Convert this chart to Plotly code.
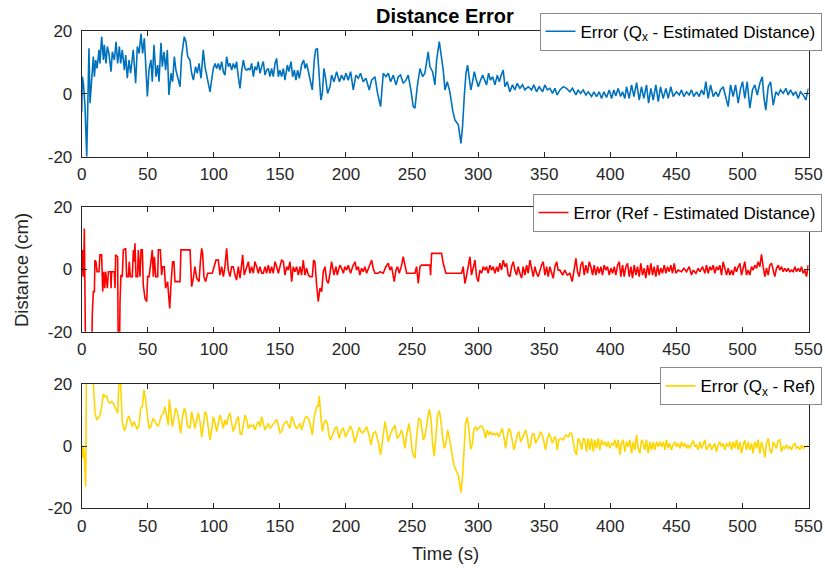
import plotly.graph_objects as go

# ---- Error (Qx - Estimated Distance), (time s, error cm) ----
qx_est_err = [
    (0, -6.0), (0.5, 5.4), (1.3, 3.3), (2.5, -4.0), (3.8, -20.0), (4.5, 0.0), (5.5, 14.4),
    (6.3, -3.0), (7.5, 5.4), (8.8, 11.8), (9.6, 5.4), (10.6, 10.7), (11.6, 8.0), (13.1, 13.9),
    (13.8, 9.6), (15.1, 18.1), (16.4, 10.7), (17.1, 15.5), (18.4, 9.6), (19.4, 15.0),
    (20.6, 12.8), (22.2, 7.0), (23.2, 13.3), (24.7, 10.7), (26.0, 16.5), (27.2, 9.6),
    (28.5, 15.0), (29.5, 9.6), (30.7, 13.9), (32.3, 7.5), (33.3, 12.3), (34.5, 4.9),
    (35.8, 10.7), (37.0, 6.5), (39.0, 13.9), (40.8, 3.3), (42.1, 15.0), (43.4, 12.8),
    (44.9, 19.0), (46.1, 12.8), (47.4, 17.6), (48.4, 8.6), (49.7, -0.9), (50.9, 7.5),
    (52.4, 10.7), (53.4, 3.8), (54.7, 15.5), (56.2, 5.4), (57.5, 9.1), (58.5, 3.8),
    (60.0, 16.2), (61.0, 8.6), (62.3, 13.3), (63.5, 7.5), (64.8, 13.9), (66.0, -0.4),
    (67.6, 6.5), (68.8, 3.8), (70.1, 11.8), (71.3, 7.5), (72.6, 5.4), (74.4, 2.2),
    (75.6, 11.8), (77.6, 18.1), (78.9, 16.5), (80.2, 11.8), (81.9, 10.7), (83.2, 6.5),
    (84.5, 4.3), (86.2, 8.6), (87.5, 6.5), (88.8, 9.6), (90.3, 4.9), (92.0, 13.9),
    (93.3, 8.6), (94.6, 5.9), (95.8, 2.2), (97.1, 0.6), (98.3, 4.3), (99.6, 8.0),
    (100.9, 9.6), (102.1, 8.0), (103.4, 9.6), (104.6, 7.5), (105.9, 10.2), (107.2, 7.0),
    (108.4, 5.9), (109.7, 11.8), (111.0, 8.6), (112.2, 9.6), (113.5, 7.5), (114.7, 9.6),
    (116.0, 8.0), (117.2, 10.2), (118.5, 5.4), (119.8, 1.7), (121.0, 7.0), (122.3, 10.7),
    (123.6, 8.0), (124.8, 7.5), (126.1, 8.0), (127.3, 7.5), (128.6, 9.6), (129.9, 5.4),
    (131.1, 8.6), (132.4, 7.5), (133.6, 10.2), (134.9, 6.5), (136.2, 8.6), (137.4, 10.2),
    (138.7, 5.9), (139.9, 7.5), (141.2, 8.0), (142.5, 5.4), (143.7, 8.0), (145.0, 5.4),
    (146.3, 9.6), (147.5, 11.2), (148.8, 5.4), (150.0, 7.5), (151.3, 5.4), (152.6, 8.0),
    (153.8, 4.3), (155.6, 9.1), (156.8, 7.0), (158.4, 10.2), (159.6, 5.4), (160.9, 7.5),
    (162.1, 4.3), (163.4, 7.5), (164.7, 4.9), (166.4, 9.1), (168.0, 10.7), (169.0, 8.0),
    (170.2, 9.6), (171.5, 7.0), (172.7, 5.4), (174.5, 1.2), (176.0, 10.7), (177.0, 13.9),
    (178.3, 14.4), (179.5, 5.4), (181.0, -2.0), (182.1, 0.1), (183.3, 8.0), (184.6, 4.9),
    (186.1, 0.1), (187.9, 2.2), (189.1, 5.9), (190.9, 3.8), (192.9, 7.0), (195.0, 3.8),
    (196.7, 5.9), (198.4, 4.3), (200.0, 6.5), (201.7, 4.3), (203.5, 7.0), (205.5, 1.2),
    (207.5, 5.9), (209.3, 4.9), (211.0, 6.5), (213.0, 3.8), (215.1, 4.9), (217.6, 1.2),
    (219.4, 4.3), (221.9, 5.4), (223.9, 0.1), (226.2, -4.1), (228.2, 6.5), (230.2, 5.4),
    (232.0, 6.5), (233.8, 3.8), (235.8, 5.9), (237.8, 2.8), (239.6, 5.4), (241.3, 5.9),
    (243.3, 3.3), (245.4, 4.3), (247.1, 5.9), (249.1, 1.2), (250.9, -4.1), (252.2, -4.6),
    (253.9, 2.2), (256.0, 8.0), (258.0, 5.4), (259.7, 6.5), (261.0, 10.2), (262.2, 13.3),
    (263.5, 8.6), (265.5, 7.0), (267.3, 2.8), (268.6, 10.7), (270.6, 16.5), (272.3, 11.8),
    (273.6, 7.5), (274.9, 1.2), (276.6, 3.8), (278.6, 0.6), (280.7, -5.2), (282.4, -8.3),
    (285.0, -9.9), (287.0, -15.8), (288.2, -10.5), (289.5, -0.9), (290.8, 6.5), (292.0, 9.1),
    (293.3, 5.4), (294.5, 1.2), (295.8, 3.8), (297.1, 7.0), (298.3, 4.9), (300.1, 2.2),
    (301.8, 4.3), (303.4, 5.9), (304.9, 4.3), (306.4, 2.8), (307.9, 6.5), (309.4, 4.3),
    (311.0, 5.4), (312.7, 2.8), (314.5, 5.9), (316.0, 3.8), (317.5, 5.9), (319.0, 7.5),
    (320.3, 2.2), (322.0, 3.8), (324.0, 0.6), (326.0, 2.8), (327.8, 1.2), (329.6, 3.3),
    (331.6, 1.7), (333.6, 2.8), (335.4, 1.2), (337.9, 2.2), (340.4, 1.2), (342.2, 2.8),
    (344.2, 0.6), (346.2, 2.2), (348.8, 0.6), (350.5, 2.8), (352.3, 1.2), (354.3, 1.7),
    (356.3, 0.1), (358.1, 1.7), (359.8, -0.4), (361.9, 1.2), (364.4, 2.2), (366.9, 1.7),
    (369.4, 0.6), (371.4, 1.7), (374.0, -0.4), (375.7, 1.2), (377.5, 0.1), (379.5, 1.2),
    (381.5, -0.4), (383.3, 0.6), (385.8, -0.9), (387.6, 0.6), (389.6, -0.9), (391.6, 0.6),
    (393.4, -1.5), (395.2, 0.6), (397.2, -1.2), (399.2, 1.2), (401.0, -1.5), (402.7, 1.2),
    (404.2, -0.7), (406.0, 1.7), (407.8, -0.9), (409.3, 0.6), (411.0, -1.5), (412.3, 2.2),
    (414.3, -1.5), (416.1, 2.8), (417.9, -0.9), (419.9, 3.5), (421.9, -2.0), (423.6, 2.2),
    (425.4, -1.5), (427.4, 2.8), (429.0, -3.0), (430.7, 1.7), (432.5, -2.0), (434.5, 2.8),
    (436.3, -2.5), (438.0, 2.2), (440.0, -1.5), (442.1, 1.7), (443.8, -1.5), (445.8, 2.2),
    (447.6, -0.9), (450.1, 0.6), (452.2, -0.4), (453.9, 1.2), (455.7, -0.9), (457.7, 0.6),
    (459.7, -0.4), (461.5, 1.2), (463.2, -0.9), (465.3, 0.6), (467.3, -0.9), (469.0, 1.2),
    (470.8, -0.4), (472.3, 3.8), (474.1, -1.5), (475.9, 2.8), (477.9, -0.9), (479.9, 0.6),
    (481.7, -0.9), (483.4, 1.2), (485.4, 2.2), (487.2, -0.9), (489.2, -4.1), (491.0, 2.8),
    (493.0, -0.9), (494.8, 2.8), (496.8, -3.0), (498.6, 1.7), (500.1, 3.8), (501.8, -1.5),
    (503.6, 3.8), (505.6, -4.6), (507.6, 1.2), (509.4, 2.8), (511.2, -0.4), (513.2, 3.3),
    (515.0, 5.4), (516.2, -0.9), (517.7, -5.2), (519.5, 2.2), (521.3, 3.8), (523.3, -3.6),
    (525.3, 0.6), (527.1, -0.4), (528.8, 1.2), (530.8, 0.1), (532.9, 1.7), (534.6, -0.4),
    (536.4, 1.2), (538.4, -0.4), (540.4, 0.6), (542.2, -1.5), (543.9, 0.6), (546.0, -0.4),
    (548.0, -2.0), (549.0, 0.1), (550.0, 1.7),
]

# ---- Error (Ref - Estimated Distance) ----
ref_est_err = [
    (0, -2.3), (0.5, 6.3), (1.5, -2.3), (2.0, 13.2), (3.0, -30.0), (7.5, -30.0), (8.0, -14.6),
    (8.8, -7.1), (9.6, -7.1), (10.0, 3.0), (10.8, 2.5), (11.6, -0.7), (13.1, -0.7),
    (13.8, 4.7), (15.1, 4.7), (15.9, -7.1), (16.6, -0.7), (17.4, -6.0), (18.1, -0.7),
    (19.4, -6.0), (20.2, -0.7), (21.9, -0.7), (22.2, -6.0), (22.7, -0.7), (24.7, -0.7),
    (25.2, -6.0), (25.7, 4.7), (27.2, 4.1), (27.7, -30.0), (28.5, -30.0), (29.0, -10.3),
    (29.7, -1.8), (30.7, -2.3), (31.5, 6.3), (33.3, 6.8), (34.0, -2.3), (35.3, -2.3),
    (36.0, 2.5), (36.8, -2.3), (38.3, -2.3), (39.1, 6.3), (39.8, 2.5), (40.3, 8.4),
    (41.1, -2.3), (42.3, -2.3), (42.8, 6.3), (44.1, -2.3), (44.9, 6.3), (45.9, 6.3),
    (46.6, -5.0), (47.9, -9.3), (49.2, -10.3), (49.9, -2.3), (51.0, -2.3), (52.4, 2.5),
    (53.4, 6.3), (54.2, -2.3), (55.0, 4.1), (56.0, -2.3), (57.5, -2.3), (58.0, 6.3),
    (59.5, 6.3), (60.5, -1.8), (61.3, 0.9), (62.5, 0.9), (63.5, -6.0), (65.0, -3.9),
    (66.6, -12.5), (67.6, -4.5), (68.8, 2.5), (69.8, 2.5), (70.6, -3.9), (74.4, -3.9),
    (75.1, 6.3), (82.0, 6.3), (83.2, -5.5), (84.5, -2.8), (85.7, 0.9), (87.0, -2.8),
    (88.8, -3.9), (89.8, 2.5), (90.8, 6.8), (91.5, 5.2), (92.5, -2.3), (93.8, -3.9),
    (95.3, -1.2), (98.8, -1.2), (100.3, 0.9), (101.6, 3.0), (103.4, 3.0), (104.6, -1.8),
    (105.9, 0.9), (107.2, -2.3), (108.4, 0.9), (109.7, 6.8), (110.9, -0.2), (112.2, -2.3),
    (113.5, 0.9), (114.7, 0.9), (116.0, -1.8), (117.2, -3.4), (118.5, 0.9), (119.8, -2.8),
    (121.0, 1.4), (121.8, 4.7), (123.0, -1.8), (124.8, 0.9), (126.1, 2.5), (127.3, -1.2),
    (128.6, 0.9), (129.9, -1.2), (131.1, 2.5), (132.4, 0.9), (133.6, -1.2), (134.9, 0.9),
    (136.2, -1.2), (137.4, -1.2), (138.7, 0.9), (139.9, -1.2), (141.2, 1.4), (142.5, -1.2),
    (143.7, 0.9), (145.0, -1.2), (146.3, 2.5), (147.5, 0.9), (148.8, -1.2), (150.0, 0.9),
    (151.3, 3.0), (152.6, 2.5), (153.8, -1.8), (155.1, 0.9), (156.3, -0.2), (157.6, 2.5),
    (158.9, -3.9), (160.1, 0.9), (161.4, -0.7), (162.6, 0.9), (163.9, -1.8), (165.2, 0.9),
    (166.4, -1.8), (167.7, 3.0), (168.9, -1.8), (170.2, 0.4), (171.5, -1.8), (172.7, -2.3),
    (174.5, -2.3), (175.5, 3.0), (176.5, 2.5), (177.8, -5.0), (179.0, -10.3), (180.3, -6.0),
    (181.6, -7.1), (182.8, -0.7), (184.1, 0.9), (185.3, -3.4), (186.6, -4.5),
    (187.9, -1.2), (189.1, 2.5), (190.9, -1.8), (192.4, 0.9), (193.4, -1.8), (195.4, 1.4),
    (196.7, 0.4), (198.0, -1.2), (199.2, 0.9), (200.5, -0.2), (201.7, 1.4), (203.5, -1.2),
    (205.0, 0.9), (206.8, 2.5), (208.0, -0.2), (209.3, 0.9), (210.5, -1.8), (211.8, 0.4),
    (213.1, -0.7), (214.3, 0.9), (215.6, -1.2), (217.6, 0.9), (219.4, 3.0), (220.6, 0.4),
    (221.9, -1.2), (224.4, -1.2), (225.7, -0.7), (228.2, -1.2), (230.2, 0.9), (232.0, 2.0),
    (233.2, -0.2), (234.5, 0.9), (235.8, -1.8), (236.5, -3.9), (237.8, -0.2), (239.0, 0.9),
    (240.3, -1.2), (242.1, 1.4), (243.3, 4.1), (244.6, 1.4), (245.9, -1.2), (252.2, -1.2),
    (253.4, 0.9), (254.7, -4.5), (256.0, 0.9), (257.2, 1.4), (263.5, 1.4), (264.0, -1.8),
    (264.8, 5.2), (272.3, 5.2), (273.6, 2.0), (275.6, -1.2), (287.5, -1.2), (288.7, 0.9),
    (290.0, -4.5), (291.3, -1.8), (292.5, 1.4), (293.8, 4.1), (295.0, -1.8), (296.3, 0.9),
    (297.6, 3.0), (298.8, -2.3), (300.1, -3.9), (301.3, -0.2), (302.6, -1.2), (303.9, 0.9),
    (305.1, -0.2), (306.4, 0.9), (307.6, -1.2), (308.9, 1.4), (310.2, -0.2), (311.4, 0.9),
    (312.7, -1.2), (314.0, 0.9), (315.2, -0.7), (316.5, 2.0), (317.7, -0.2), (319.0, 3.0),
    (320.3, 0.9), (321.5, 2.0), (322.8, -1.8), (324.1, -2.3), (325.3, 0.9), (326.6, 2.5),
    (327.8, -0.2), (329.1, -1.8), (330.3, 0.9), (331.6, -1.2), (332.9, -2.8), (334.1, 0.9),
    (335.4, -1.8), (336.7, 1.4), (337.9, -1.2), (339.2, 3.0), (340.4, -0.2), (341.7, -2.3),
    (343.0, 0.9), (344.2, -1.2), (345.5, -2.3), (346.7, -0.2), (348.0, 1.4), (349.3, 2.5),
    (350.5, -1.8), (351.8, 0.9), (353.0, -2.3), (354.3, 0.9), (355.6, -1.2), (356.8, -2.8),
    (358.1, 0.9), (359.4, 2.5), (360.6, -0.2), (361.9, -0.2), (363.9, -1.8), (365.6, -0.2),
    (367.4, -1.8), (369.4, -1.2), (371.2, -3.9), (372.7, 0.4), (374.0, 3.6), (375.2, -0.7),
    (376.5, -2.3), (377.7, 1.4), (379.0, 2.5), (380.3, -1.8), (381.5, 1.4), (382.8, -1.2),
    (384.1, 2.5), (385.3, 0.9), (386.6, -1.8), (387.8, 1.4), (389.1, -1.8), (390.4, 0.9),
    (391.6, -1.2), (392.9, 0.9), (394.1, -1.8), (395.4, 1.4), (396.7, -0.2), (397.9, 0.9),
    (399.2, -1.8), (400.5, 0.4), (401.7, -1.2), (403.0, 0.9), (404.2, -1.8), (405.5, 1.4),
    (406.8, 2.5), (408.0, -2.3), (409.3, 1.4), (410.5, -2.3), (411.8, 0.9), (413.1, 2.0),
    (414.3, -2.3), (415.6, 0.9), (416.8, -2.8), (418.1, 1.4), (419.4, -1.8), (420.6, 0.9),
    (421.9, -2.3), (423.1, 2.0), (424.4, -1.8), (425.7, 0.4), (426.9, -2.8), (428.2, 1.4),
    (429.5, -1.8), (430.7, 2.0), (432.0, -1.8), (433.2, 0.9), (434.5, -2.3), (435.8, 1.4),
    (437.0, -1.8), (438.3, 0.4), (439.5, -1.2), (440.8, 1.4), (442.1, -1.2), (443.3, 0.9),
    (444.6, -0.7), (445.8, 1.4), (447.1, -1.2), (448.4, 2.0), (449.6, -1.2), (451.4, -0.2),
    (453.9, -0.7), (455.7, 0.4), (457.7, -0.7), (459.7, 0.9), (461.5, -1.8), (462.7, -0.2),
    (464.8, -1.2), (466.5, 0.4), (467.8, -0.7), (469.8, 0.9), (471.6, -1.2), (472.8, 1.4),
    (474.1, -1.2), (475.4, 0.9), (476.6, -0.2), (477.9, 1.4), (479.1, -1.2), (480.4, 0.9),
    (481.7, -0.2), (482.9, 1.4), (484.2, -1.8), (485.4, 2.5), (486.7, -0.2), (488.0, -1.8),
    (489.2, 0.4), (490.5, -1.8), (491.8, -0.2), (493.0, -1.8), (494.3, 0.9), (495.5, -0.7),
    (496.8, 0.9), (498.1, 2.0), (499.3, -1.8), (500.6, 0.4), (501.8, 2.5), (503.1, -1.8),
    (504.4, -0.2), (505.6, -1.8), (506.9, 0.9), (508.1, -0.2), (509.4, 1.4), (510.7, 0.4),
    (511.9, 2.5), (513.2, 0.9), (514.4, 4.9), (515.7, 0.9), (517.0, -2.3), (518.2, 0.4),
    (519.5, -1.8), (520.7, 1.4), (522.0, 2.0), (523.3, -0.2), (524.5, -2.3), (525.8, 0.4),
    (527.1, 1.4), (528.3, -0.2), (529.6, 0.9), (530.8, -0.7), (532.1, 0.4), (533.4, -0.7),
    (534.6, 0.4), (535.9, -0.7), (537.1, -0.2), (538.4, -0.7), (539.7, 0.9), (540.9, -0.7),
    (542.2, 0.4), (543.5, -0.7), (544.7, 0.9), (546.0, -1.2), (547.2, -0.2), (548.5, -2.3),
    (549.8, 1.4),
]

# ---- Error (Qx - Ref) ----
qx_ref_err = [
    (0, 0.4), (0.5, -3.9), (1.2, -0.2), (2.0, -3.4), (3.0, -13.0), (3.5, 20.2), (4.2, 26.0),
    (7.0, 26.0), (8.8, 20.2), (10.1, 10.6), (11.3, 8.6), (12.6, 9.0), (13.8, 10.0),
    (15.1, 12.7), (16.4, 16.8), (17.6, 15.9), (18.9, 16.1), (20.2, 14.3), (21.4, 13.8),
    (22.7, 14.3), (23.9, 13.8), (25.2, 12.7), (26.5, 11.6), (27.2, 10.6), (28.2, 20.2),
    (28.7, 25.0), (29.5, 20.2), (30.7, 7.9), (32.3, 4.9), (33.5, 6.3), (34.8, 9.0),
    (35.8, 9.7), (37.0, 7.9), (38.3, 6.3), (39.6, 7.9), (40.8, 6.8), (42.1, 5.4), (43.4, 6.8),
    (44.6, 12.2), (45.9, 12.7), (47.1, 18.1), (48.4, 14.9), (49.7, 9.0), (50.9, 5.7),
    (52.4, 6.3), (53.9, 9.0), (55.5, 7.9), (56.7, 6.8), (58.0, 6.5), (59.2, 8.4),
    (60.5, 10.0), (61.8, 10.6), (63.0, 12.7), (64.3, 9.5), (65.5, 6.8), (66.3, 15.1),
    (67.3, 10.6), (68.6, 6.3), (69.8, 9.0), (71.1, 12.2), (72.4, 11.1), (73.6, 6.8),
    (74.9, 4.1), (76.1, 9.0), (77.7, 12.2), (78.9, 10.6), (80.2, 6.3), (81.9, 5.7),
    (83.2, 11.1), (84.5, 8.4), (85.7, 5.7), (87.0, 8.4), (88.2, 10.8), (89.5, 7.9),
    (90.8, 3.0), (92.0, 6.3), (93.3, 11.1), (94.5, 10.0), (95.8, 5.7), (97.1, 2.0),
    (98.3, 5.2), (99.6, 9.5), (100.9, 7.3), (102.1, 4.7), (103.4, 7.3), (104.6, 10.0),
    (105.9, 8.4), (107.2, 5.7), (108.4, 8.4), (109.7, 6.8), (111.0, 9.5), (112.2, 10.6),
    (113.5, 7.3), (114.7, 4.7), (116.0, 6.3), (117.2, 8.4), (118.5, 9.5), (119.8, 4.1),
    (121.0, 3.6), (122.3, 7.3), (123.6, 10.0), (124.8, 8.4), (126.1, 5.7), (127.3, 6.8),
    (128.6, 6.3), (129.9, 6.8), (131.1, 5.2), (132.4, 6.8), (133.6, 7.9), (134.9, 6.3),
    (136.2, 9.5), (137.4, 7.3), (138.7, 5.2), (139.9, 6.3), (141.2, 7.3), (142.5, 5.7),
    (143.7, 6.3), (145.0, 7.3), (146.3, 7.9), (147.5, 8.6), (148.8, 6.8), (150.0, 4.3),
    (151.3, 4.7), (152.6, 6.8), (153.8, 7.6), (155.1, 7.9), (156.3, 6.8), (157.6, 5.7),
    (158.9, 9.5), (160.1, 8.4), (161.4, 6.5), (162.6, 5.7), (163.9, 6.3), (165.2, 7.3),
    (166.4, 5.2), (167.7, 7.3), (168.9, 9.0), (170.2, 9.5), (171.5, 9.0), (172.7, 7.3),
    (174.5, 3.6), (176.0, 9.5), (177.8, 12.7), (179.0, 12.9), (179.8, 16.1), (180.8, 10.6),
    (182.1, 4.7), (183.3, 7.3), (184.6, 8.4), (185.9, 7.3), (187.1, 3.6),
    (188.4, 2.0), (189.9, 3.6), (191.6, 5.7), (192.9, 6.3), (194.9, 2.5), (196.7, 5.2),
    (198.0, 5.7), (199.7, 3.0), (201.7, 4.7), (203.5, 6.5), (205.0, 4.7), (206.5, 1.1),
    (208.0, 3.0), (210.0, 6.1), (211.8, 4.3), (213.6, 4.7), (215.6, 6.3), (217.4, 3.6),
    (218.9, 0.4), (220.6, 4.1), (222.4, 4.7), (224.4, 1.4), (226.2, -2.8), (227.7, 3.0),
    (229.5, 7.9), (230.7, 5.2), (232.0, 1.4), (233.8, 4.1), (235.3, 5.4), (237.0, 6.8),
    (238.8, 2.5), (240.3, 3.3), (242.1, 5.2), (243.3, 3.0), (244.6, -0.7), (245.9, 3.6),
    (247.6, 7.3), (248.9, 3.6), (250.4, -2.3), (252.2, -3.9), (253.4, 3.0), (255.0, 9.0),
    (256.5, 8.4), (258.5, 2.0), (259.7, 3.0), (261.5, 8.4), (263.0, 11.9), (264.3, 9.0),
    (265.5, 0.9), (266.8, -3.2), (268.1, 4.1), (269.3, 10.0), (270.6, 11.4), (271.8, 8.4),
    (273.1, 3.0), (274.4, -0.7), (275.6, 0.9), (276.9, 5.2), (278.1, 3.0), (279.9, -1.2),
    (281.7, -6.1), (283.2, -7.7), (285.0, -9.3), (286.2, -12.5), (287.0, -15.0),
    (288.2, -9.8), (289.2, -1.2), (290.5, 7.3), (291.8, 9.3), (293.0, 5.7), (294.3, -1.0),
    (295.5, 0.4), (296.8, 5.4), (298.1, 6.3), (299.3, 5.2), (300.6, 6.1), (301.8, 6.5),
    (303.1, 6.3), (304.4, 5.0), (305.6, 2.5), (306.9, 5.2), (308.2, 3.6), (309.4, 4.7),
    (310.7, 3.6), (311.9, 4.1), (313.2, 3.6), (314.5, 4.1), (315.7, 3.0), (317.0, 4.7),
    (318.2, 5.7), (319.5, 3.0), (320.8, -0.7), (322.0, 3.0), (323.3, 5.7), (324.5, 4.7),
    (325.8, 1.4), (327.1, -1.2), (328.3, 0.9), (329.6, 3.6), (330.9, 4.7), (332.1, 1.4),
    (333.4, 2.5), (334.6, 3.6), (335.9, 5.2), (337.2, 3.0), (338.4, -0.7), (339.7, 0.4),
    (340.9, 3.6), (342.2, 4.1), (343.5, 0.9), (344.7, 2.0), (346.0, 3.0), (347.3, 4.7),
    (348.5, 3.6), (349.8, 1.4), (351.0, -1.2), (352.3, 2.0), (353.6, 4.1), (354.8, 3.0),
    (356.1, 0.9), (357.3, 2.5), (358.6, 3.0), (359.9, -1.2), (361.1, 2.0),
    (362.4, 2.5), (364.4, 2.0), (366.4, 3.6), (368.2, 3.0), (369.4, 4.1), (370.7, 4.1),
    (372.0, 1.4), (373.2, -1.8), (374.5, -2.8), (375.7, 2.5), (377.0, 1.4), (378.3, -1.2),
    (379.5, 2.5), (380.8, 2.0), (382.0, -1.8), (383.3, 2.5), (384.6, -1.2), (385.8, 2.5),
    (387.1, -1.8), (388.3, 2.0), (389.6, -0.7), (390.9, 2.5), (392.1, -1.2), (393.4, 2.0),
    (394.6, 0.4), (395.9, 1.4), (397.2, -0.2), (398.4, 1.4), (399.7, -0.7), (401.0, 0.9),
    (402.2, 0.4), (403.5, 2.0), (404.7, -0.7), (406.0, 2.0), (407.3, -2.8), (408.5, 0.9),
    (409.8, 2.0), (411.0, -1.8), (412.3, 1.4), (413.6, -0.2), (414.8, 2.0), (416.1, -2.3),
    (417.3, 1.4), (418.6, -1.2), (419.9, 3.6), (421.1, -0.7), (422.4, -2.3), (423.7, 2.0),
    (424.9, 0.9), (426.2, -1.2), (427.4, 2.0), (428.7, -2.3), (430.0, 1.4), (431.2, -1.2),
    (432.5, 1.4), (433.7, -1.2), (435.0, 1.4), (436.3, -0.2), (437.5, 1.4), (438.8, -0.2),
    (440.1, 1.4), (441.3, -1.2), (442.6, 2.0), (443.8, -0.7), (445.1, 0.9), (446.3, -1.2),
    (447.6, 0.4), (448.9, 1.4), (450.1, -0.2), (451.4, 0.9), (452.7, -0.7), (453.9, 1.4),
    (455.2, -0.2), (456.4, 0.9), (457.7, -0.7), (458.9, 0.4), (460.2, -0.7), (461.5, 0.9),
    (462.7, 1.8), (464.0, -0.2), (465.3, 0.4), (466.5, -1.2), (467.8, 1.4), (469.0, -0.7),
    (470.3, 0.9), (471.6, 2.0), (472.8, -1.2), (474.1, -0.2), (475.4, 0.9), (476.6, -1.2),
    (477.9, -0.2), (479.1, 0.9), (480.4, -1.8), (481.7, 0.4), (482.9, 1.4), (484.2, -0.2),
    (485.4, 0.9), (486.7, -1.2), (488.0, 0.9), (489.2, -0.2), (490.5, 1.4), (491.8, -1.2),
    (493.0, 1.4), (494.3, -0.7), (495.5, 2.0), (496.8, -1.2), (498.1, 1.4), (499.3, -2.3),
    (500.6, 0.4), (501.8, 2.0), (503.1, -1.2), (504.4, 1.4), (505.6, -1.2), (506.9, 0.9),
    (508.1, -2.3), (509.4, 1.4), (510.7, -0.7), (511.9, 2.0), (513.2, -2.3), (514.4, 1.4),
    (515.7, -0.7), (517.0, -3.6), (518.2, 0.9), (519.5, 2.5), (520.8, -1.2), (522.0, -2.3),
    (523.3, 1.4), (524.5, 0.4), (525.8, -0.7), (527.1, 1.8), (528.3, 2.0), (529.6, -1.8),
    (530.8, -0.2), (532.1, -0.7), (533.4, 0.4), (534.6, -0.7), (535.9, -0.2), (537.1, -1.2),
    (538.4, 0.4), (539.7, 0.9), (540.9, -0.7), (542.2, -0.2), (543.5, -1.2), (544.7, 0.4),
    (546.0, -0.7), (547.2, -0.2), (548.5, 0.0), (549.8, 0.0),
]

x_ticks = [0, 50, 100, 150, 200, 250, 300, 350, 400, 450, 500, 550]
y_ticks = [-20, 0, 20]
y_tick_labels = ["-20", "0", "20"]

series = [
    (qx_est_err, "Error (Q<sub>x</sub> - Estimated Distance)", "#0072BD", "legend"),
    (ref_est_err, "Error (Ref - Estimated Distance)", "#FF0000", "legend2"),
    (qx_ref_err, "Error (Q<sub>x</sub> - Ref)", "#FFD500", "legend3"),
]

W, H = 825, 571
x_dom = [81.7 / W, 808.5 / W]
# panel top/bottom edges in pixels, from the top of the figure
panel_px = [(30.7, 156.7), (207.3, 331.7), (384.0, 508.3)]

FONT = "Liberation Sans, Arial, Helvetica, sans-serif"
AX = "#262626"

fig = go.Figure()
for i, (samples, name, color, leg) in enumerate(series):
    t = [p[0] for p in samples]
    v = [p[1] for p in samples]
    k = "" if i == 0 else str(i + 1)
    fig.add_trace(go.Scatter(
        x=t, y=v, mode="lines", name=name,
        line=dict(color=color, width=1.6),
        xaxis="x" + k, yaxis="y" + k, legend=leg,
    ))
    top, bot = panel_px[i]
    common = dict(
        showline=True, mirror="ticks", linecolor=AX, linewidth=1,
        ticks="inside", ticklen=5, tickcolor=AX, tickwidth=1,
        showgrid=False, zeroline=False,
        tickfont=dict(family=FONT, size=17, color=AX),
    )
    fig.layout["xaxis" + k] = dict(
        domain=x_dom, range=[0, 550], tickvals=x_ticks,
        anchor="y" + k, ticklabelstandoff=2, **common,
    )
    fig.layout["yaxis" + k] = dict(
        domain=[1 - bot / H, 1 - top / H], range=[-20, 20],
        tickvals=y_ticks, ticktext=y_tick_labels,
        anchor="x" + k, ticklabelstandoff=5, **common,
    )

leg_common = dict(
    xanchor="right", yanchor="top", x=821.5 / W,
    bgcolor="white", bordercolor="#8a8a8a", borderwidth=1,
    font=dict(family=FONT, size=17, color="#000000"),
    tracegroupgap=0, itemwidth=30,
)
fig.update_layout(
    legend=dict(y=1 - 12.7 / H, **leg_common),
    legend2=dict(y=1 - 194.0 / H, **leg_common),
    legend3=dict(y=1 - 367.3 / H, **leg_common),
)

fig.update_layout(
    width=W, height=H,
    margin=dict(l=0, r=0, t=0, b=0, autoexpand=False),
    paper_bgcolor="white", plot_bgcolor="white",
    font=dict(family=FONT, color=AX),
    showlegend=True,
    annotations=[
        dict(text="<b>Distance Error</b>", x=(x_dom[0] + x_dom[1]) / 2, y=1 - 16 / H,
             xref="paper", yref="paper", xanchor="center", yanchor="middle",
             showarrow=False, font=dict(family=FONT, size=20, color="#000000")),
        dict(text="Distance (cm)", x=22 / W, y=1 - 270 / H, textangle=-90,
             xref="paper", yref="paper", xanchor="center", yanchor="middle",
             showarrow=False, font=dict(family=FONT, size=18.5, color=AX)),
        dict(text="Time (s)", x=(x_dom[0] + x_dom[1]) / 2, y=1 - 553 / H,
             xref="paper", yref="paper", xanchor="center", yanchor="middle",
             showarrow=False, font=dict(family=FONT, size=18.5, color=AX)),
    ],
)

fig.write_html("out.html")
